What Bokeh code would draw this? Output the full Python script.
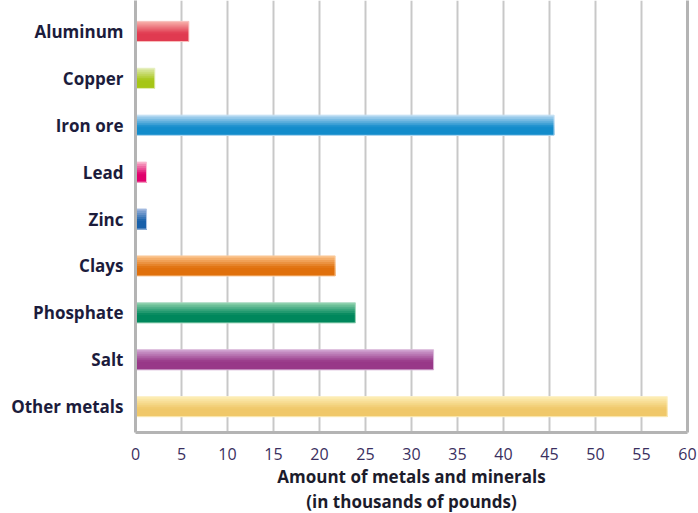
from bokeh.plotting import figure
from bokeh.models import Range1d, FixedTicker, LinearAxis, ColumnDataSource, Title
from bokeh.embed import file_html
from bokeh.resources import INLINE

categories = ["Aluminum", "Copper", "Iron ore", "Lead", "Zinc", "Clays",
              "Phosphate", "Salt", "Other metals"]
values = [5.8, 2.1, 45.5, 1.2, 1.2, 21.7, 23.9, 32.4, 57.8]
x_ticks = list(range(0, 61, 5))
x_title_lines = ["Amount of metals and minerals", "(in thousands of pounds)"]

top_colors = ["#f6a8a4", "#dbe8a4", "#acd4f0", "#f7a6c4", "#90acd8",
              "#f9bc80", "#84cca6", "#cc9ccc", "#fcebb0"]
bottom_colors = ["#e03a50", "#a6c617", "#138ccb", "#e0006c", "#1860aa",
                 "#e0700c", "#00875c", "#983888", "#f0c86a"]

def hex2rgb(h):
    h = h.lstrip("#")
    return tuple(int(h[i:i + 2], 16) for i in (0, 2, 4))

def mix(c1, c2, t):
    a, b = hex2rgb(c1), hex2rgb(c2)
    return "#%02x%02x%02x" % tuple(int(round(a[i] + (b[i] - a[i]) * t)) for i in range(3))

n = len(categories)
ypos = [n - 1 - i for i in range(n)]

p = figure(width=698, height=513, output_backend="svg", toolbar_location=None,
           x_range=Range1d(0, 60), y_range=Range1d(-0.55, 8.66),
           min_border_top=0, min_border_right=11, min_border_left=135,
           min_border_bottom=81)
p.outline_line_color = None
p.background_fill_color = "white"
p.border_fill_color = "white"

# gridlines
p.xgrid.ticker = FixedTicker(ticks=x_ticks)
p.xgrid.grid_line_color = "#c8c8c8"
p.xgrid.grid_line_width = 2
p.ygrid.grid_line_color = None

# gradient bars: overlapping layers, each reaching down to the bar bottom
bar_h = 0.43
nstrips = 10
strip_h = bar_h / nstrips
for k in range(nstrips):
    frac = k / (nstrips - 1)
    t = min(1.0, frac / 0.6)
    cols = [mix(tc, bc, t) for tc, bc in zip(top_colors, bottom_colors)]
    layer_h = bar_h - strip_h * k
    yc = [y - bar_h / 2 + layer_h / 2 for y in ypos]
    src = ColumnDataSource(dict(y=yc, right=values, color=cols))
    p.hbar(y="y", left=0, right="right", height=layer_h, color="color",
           line_color=None, source=src)

# thin outline around bars
src_o = ColumnDataSource(dict(y=ypos, right=values,
                              lc=[mix(tc, "#ffffff", 0.3) for tc in top_colors]))
p.hbar(y="y", left=0, right="right", height=bar_h, fill_color=None,
       line_color="lc", line_width=1, source=src_o)

# x axis
xa = p.xaxis[0]
xa.ticker = FixedTicker(ticks=x_ticks)
xa.axis_line_color = "#b4b4b4"
xa.axis_line_width = 3
xa.major_tick_line_color = None
xa.minor_tick_line_color = None
xa.major_label_text_font = "Open Sans"
xa.major_label_text_font_size = "16px"
xa.major_label_text_color = "#3a2f60"
xa.major_label_standoff = 9

for i, line in enumerate(x_title_lines):
    p.add_layout(Title(text=line, align="center", text_font="Open Sans",
                       text_font_size="17px", text_font_style="bold",
                       text_color="#1c1c2c", standoff=0, offset=0,
                       text_line_height=0.8 if i == 0 else 1.0), "below")

# y axis
ya = p.yaxis[0]
ya.ticker = FixedTicker(ticks=ypos)
ya.major_label_overrides = {y: c for y, c in zip(ypos, categories)}
ya.axis_line_color = "#b4b4b4"
ya.axis_line_width = 3
ya.major_tick_line_color = None
ya.minor_tick_line_color = None
ya.major_label_text_font = "Open Sans"
ya.major_label_text_font_size = "17px"
ya.major_label_text_font_style = "bold"
ya.major_label_text_color = "#1c1c3c"
ya.major_label_standoff = 6

# right border
ra = LinearAxis(ticker=FixedTicker(ticks=[]), axis_line_color="#b4b4b4",
                axis_line_width=3, major_tick_line_color=None,
                minor_tick_line_color=None, major_label_text_font_size="0px")
p.add_layout(ra, "right")

open("out.html", "w").write(file_html(p, INLINE))
